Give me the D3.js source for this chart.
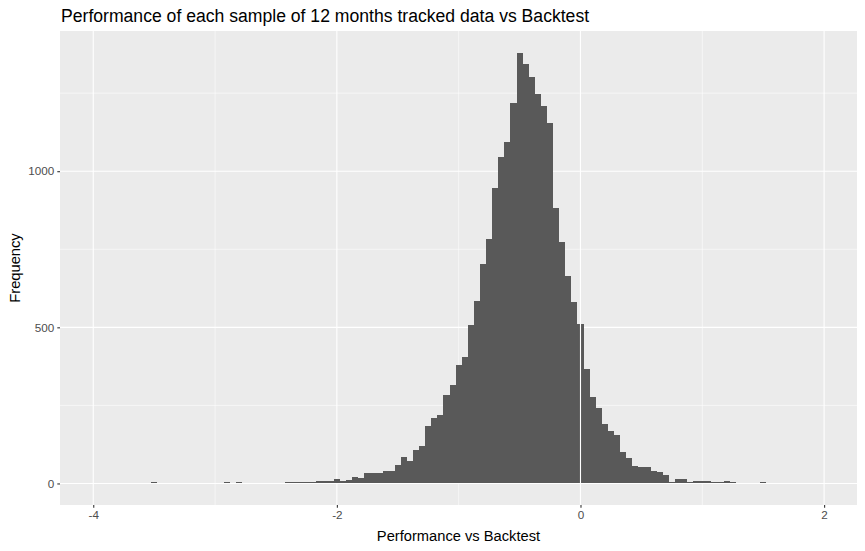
<!DOCTYPE html>
<html>
<head>
<meta charset="utf-8">
<script src="https://cdn.jsdelivr.net/npm/d3@7"></script>
<style>
  body { margin: 0; background: #fff; }
  text { font-family: "Liberation Sans", Arial, sans-serif; }
</style>
</head>
<body>
<script>
// histogram bins (mid points, binwidth 0.05) and counts
var binMids = [-3.50, -2.90, -2.80, -2.40, -2.35, -2.30, -2.25, -2.20, -2.15, -2.10,
  -2.05, -2.00, -1.95, -1.90, -1.85, -1.80, -1.75, -1.70, -1.65, -1.60,
  -1.55, -1.50, -1.45, -1.40, -1.35, -1.30, -1.25, -1.20, -1.15, -1.10,
  -1.05, -1.00, -0.95, -0.90, -0.85, -0.80, -0.75, -0.70, -0.65, -0.60,
  -0.55, -0.50, -0.45, -0.40, -0.35, -0.30, -0.25, -0.20, -0.15, -0.10,
  -0.05, 0.00, 0.05, 0.10, 0.15, 0.20, 0.25, 0.30, 0.35, 0.40,
  0.45, 0.50, 0.55, 0.60, 0.65, 0.70, 0.75, 0.80, 0.85, 0.90,
  0.95, 1.00, 1.05, 1.10, 1.15, 1.20, 1.25, 1.50];
var binCounts = [4, 4, 4, 4, 4, 4, 4, 4, 7, 7,
  7, 14, 7, 11, 20, 17, 33, 34, 34, 39,
  39, 59, 84, 72, 107, 120, 184, 209, 219, 283,
  315, 380, 405, 507, 584, 703, 783, 946, 1046, 1094,
  1220, 1380, 1344, 1302, 1248, 1209, 1155, 882, 773, 664,
  581, 510, 367, 277, 241, 190, 168, 155, 101, 81,
  56, 53, 53, 39, 36, 27, 4, 14, 14, 4,
  7, 7, 7, 4, 4, 7, 4, 4];
var binWidth = 0.05;

var xMajor = [-4, -2, 0, 2];
var xMinor = [-3, -1, 1];
var yMajor = [0, 500, 1000];
var yMinor = [250, 750, 1250];

var titleText = "Performance of each sample of 12 months tracked data vs Backtest";
var xTitle = "Performance vs Backtest";
var yTitle = "Frequency";

var W = 865, H = 551;
var panel = {left: 60, right: 857, top: 31, bottom: 505};

var bins = binMids.map(function(m, i) { return {mid: m, count: binCounts[i]}; });

// scales, with ggplot style expansion
var x = d3.scaleLinear()
    .domain([-4.273, 2.270])
    .range([panel.left, panel.right]);
var yMax = d3.max(binCounts);
var y = d3.scaleLinear()
    .domain([-0.05 * yMax, 1.05 * yMax])
    .range([panel.bottom, panel.top]);

var svg = d3.select("body").append("svg")
    .attr("width", W)
    .attr("height", H);

svg.append("rect")
    .attr("width", W).attr("height", H)
    .attr("fill", "#fff");

// panel background
svg.append("rect")
    .attr("x", panel.left).attr("y", panel.top)
    .attr("width", panel.right - panel.left)
    .attr("height", panel.bottom - panel.top)
    .attr("fill", "#EBEBEB");

var grid = svg.append("g");

// minor grid
grid.selectAll(".xminor").data(xMinor).enter().append("line")
    .attr("x1", x).attr("x2", x)
    .attr("y1", panel.top).attr("y2", panel.bottom)
    .attr("stroke", "#fff").attr("stroke-width", 0.55);
grid.selectAll(".yminor").data(yMinor).enter().append("line")
    .attr("y1", y).attr("y2", y)
    .attr("x1", panel.left).attr("x2", panel.right)
    .attr("stroke", "#fff").attr("stroke-width", 0.55);

// major grid
grid.selectAll(".xmajor").data(xMajor).enter().append("line")
    .attr("x1", x).attr("x2", x)
    .attr("y1", panel.top).attr("y2", panel.bottom)
    .attr("stroke", "#fff").attr("stroke-width", 1.1);
grid.selectAll(".ymajor").data(yMajor).enter().append("line")
    .attr("y1", y).attr("y2", y)
    .attr("x1", panel.left).attr("x2", panel.right)
    .attr("stroke", "#fff").attr("stroke-width", 1.1);

// bars
svg.append("g")
    .selectAll(".bar")
    .data(bins)
    .enter().append("rect")
    .attr("class", "bar")
    .attr("x", function(d) { return x(d.mid - binWidth / 2); })
    .attr("width", function(d) { return x(d.mid + binWidth / 2) - x(d.mid - binWidth / 2); })
    .attr("y", function(d) { return y(d.count); })
    .attr("height", function(d) { return y(0) - y(d.count); })
    .attr("fill", "#595959")
    .attr("shape-rendering", "crispEdges");

// white line at zero on top of the bars
svg.append("line")
    .attr("x1", x(0)).attr("x2", x(0))
    .attr("y1", panel.top).attr("y2", panel.bottom)
    .attr("stroke", "#fff").attr("stroke-width", 1.1);

// axes
var xAxis = d3.axisBottom(x).tickValues(xMajor).tickSize(2.7).tickPadding(3).tickFormat(d3.format("d"));
var yAxis = d3.axisLeft(y).tickValues(yMajor).tickSize(2.7).tickPadding(3).tickFormat(d3.format("d"));

var gx = svg.append("g")
    .attr("transform", "translate(0," + panel.bottom + ")")
    .call(xAxis);
var gy = svg.append("g")
    .attr("transform", "translate(" + panel.left + ",0)")
    .call(yAxis);

[gx, gy].forEach(function(g) {
  g.select(".domain").remove();
  g.selectAll(".tick line").attr("stroke", "#333333").attr("stroke-width", 1.1);
  g.selectAll(".tick text")
      .attr("fill", "#4D4D4D")
      .style("font-size", "11.7px")
      .style("font-family", "'Liberation Sans', Arial, sans-serif");
});
gx.selectAll(".tick text").text(function(d) { return d < 0 ? "-" + Math.abs(d) : d; });

// titles
svg.append("text")
    .attr("x", panel.left + 1)
    .attr("y", 22)
    .attr("font-size", "17.6px")
    .attr("fill", "#000")
    .text(titleText);

svg.append("text")
    .attr("x", (panel.left + panel.right) / 2)
    .attr("y", 540.5)
    .attr("text-anchor", "middle")
    .attr("font-size", "14.7px")
    .attr("fill", "#000")
    .text(xTitle);

svg.append("text")
    .attr("transform", "translate(19.5," + (panel.top + panel.bottom) / 2 + ") rotate(-90)")
    .attr("text-anchor", "middle")
    .attr("font-size", "14.7px")
    .attr("fill", "#000")
    .text(yTitle);
</script>
</body>
</html>
